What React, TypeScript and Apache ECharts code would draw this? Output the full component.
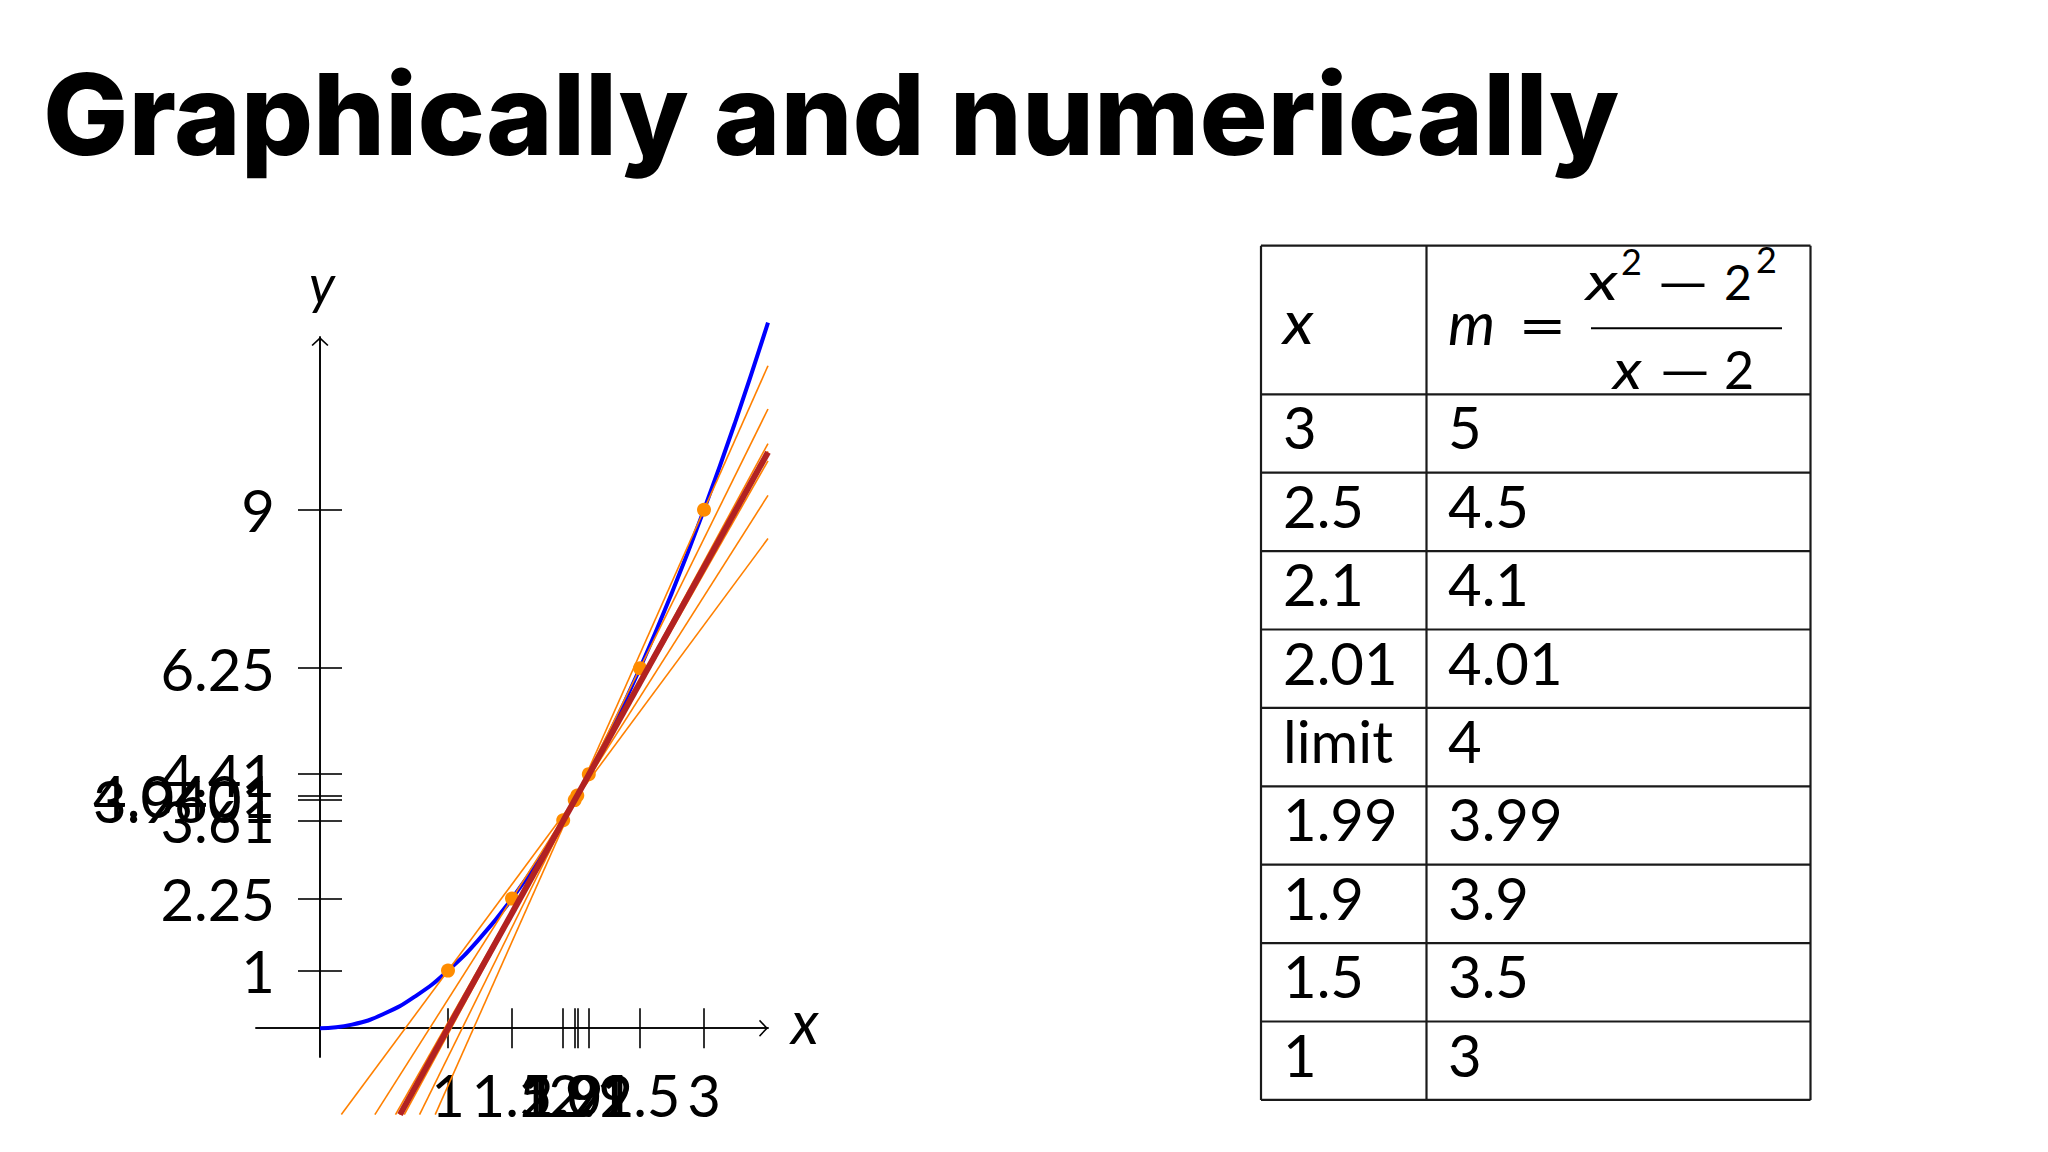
import React, { useEffect, useRef } from "react";
import * as echarts from "echarts";

// ---------- data ----------
const titleText = "Graphically and numerically";

const xTickValues = [1, 1.5, 1.9, 1.99, 2.01, 2.1, 2.5, 3];
const yTickValues = [1, 2.25, 3.61, 3.9601, 4.0401, 4.41, 6.25, 9];

// parabola y = x^2 read at quarter steps
const curveX = [0, 0.25, 0.5, 0.75, 1, 1.25, 1.5, 1.75, 2, 2.25, 2.5, 2.75, 3, 3.25, 3.5];
const curveY = [0, 0.0625, 0.25, 0.5625, 1, 1.5625, 2.25, 3.0625, 4, 5.0625, 6.25, 7.5625, 9, 10.5625, 12.25];

// secant points (a, a^2) and their slopes m
const secantX = [3, 2.5, 2.1, 2.01, 1.99, 1.9, 1.5, 1];
const secantY = [9, 6.25, 4.41, 4.0401, 3.9601, 3.61, 2.25, 1];
const secantSlope = [5, 4.5, 4.1, 4.01, 3.99, 3.9, 3.5, 3];

const tangentPoint = [2, 4];
const tangentSlope = 4;
const lineBottomY = -1.5;
const lineRightX = 3.5;

// table
const tableXCol = ["3", "2.5", "2.1", "2.01", "limit", "1.99", "1.9", "1.5", "1"];
const tableMCol = ["5", "4.5", "4.1", "4.01", "4", "3.99", "3.9", "3.5", "3"];

// ---------- helpers ----------
const LATO_K = 0.387;
const INTER_K = 0.363;

function txt(
  text: string,
  x: number,
  baseline: number,
  size: number,
  family: string,
  k: number,
  opts: { italic?: boolean; weight?: string | number; align?: string; scaleX?: number } = {}
) {
  const font = `${opts.italic ? "italic" : "normal"} ${opts.weight ?? "normal"} ${size}px ${family}`;
  const align = opts.align ?? "left";
  return {
    type: "text",
    x,
    y: baseline - k * size,
    scaleX: opts.scaleX ?? 1,
    silent: true,
    style: {
      text,
      fill: "#000",
      font,
      textAlign: align,
      align,
      textVerticalAlign: "middle",
      verticalAlign: "middle",
    },
  };
}

function segment(m: number) {
  const x0 = tangentPoint[0] + (lineBottomY - tangentPoint[1]) / m;
  const y1 = tangentPoint[1] + m * (lineRightX - tangentPoint[0]);
  return [
    [x0, lineBottomY],
    [lineRightX, y1],
  ];
}

const arrowPath = "path://M8.5,0 L17,8 L15.8,9 L8.5,2.2 L1.2,9 L0,8 Z";

export default function App() {
  const ref = useRef<HTMLDivElement>(null);

  useEffect(() => {
    if (!ref.current) return;
    const chart = echarts.init(ref.current, undefined, { renderer: "svg" });

    const axisLineStyle = { color: "#000", width: 1.6 };
    const labelFont = { fontSize: 58, fontFamily: "Lato", color: "#000" };

    // plot area: x in [-0.5, 3.5], y in [-0.5, 12]
    const gLeft = 256;
    const gTop = 337;
    const gWidth = 512;
    const gHeight = 720;
    const originX = 320; // pixel of x = 0
    const originY = 1028; // pixel of y = 0

    const xAxisBase = { type: "value", min: -0.5, max: 3.5, splitLine: { show: false } };
    const yAxisBase = { type: "value", min: -0.5, max: 12, splitLine: { show: false } };

    // table geometry
    const tLeft = 1261;
    const tDiv = 1426.5;
    const tRight = 1810.5;
    const tTop = 245.7;
    const tHead = 394.3;
    const rowH = 78.4;
    const tBottom = tHead + rowH * tableXCol.length;
    const lineStyle = { stroke: "#1a1a1a", lineWidth: 2.2 };

    const graphics: any[] = [];
    // title
    graphics.push(txt(titleText, 43, 155, 113, "Inter", INTER_K, { weight: 800, scaleX: 1.005 }));

    // axis names
    graphics.push(txt("y", 322, 304, 54, "Lato", LATO_K, { italic: true, align: "center" }));
    graphics.push(txt("x", 791, 1044, 60, "Lato", LATO_K, { italic: true }));

    // table lines
    [tLeft, tDiv, tRight].forEach((x) =>
      graphics.push({ type: "line", silent: true, shape: { x1: x, y1: tTop, x2: x, y2: tBottom }, style: lineStyle })
    );
    const hy = [tTop, tHead];
    for (let i = 1; i <= tableXCol.length; i++) hy.push(tHead + rowH * i);
    hy.forEach((y) =>
      graphics.push({ type: "line", silent: true, shape: { x1: tLeft, y1: y, x2: tRight, y2: y }, style: lineStyle })
    );

    // table header
    graphics.push(txt("x", 1283, 344, 60, "Lato", LATO_K, { italic: true, scaleX: 1.1 }));
    graphics.push(txt("m", 1448, 345, 60, "Lato", LATO_K, { italic: true }));
    graphics.push(txt("=", 1518, 347, 58, "Lato", LATO_K, { scaleX: 1.45 }));
    // numerator
    graphics.push(txt("x", 1586, 300, 52, "Lato", LATO_K, { italic: true, scaleX: 1.32 }));
    graphics.push(txt("2", 1621, 275, 36, "Lato", LATO_K));
    graphics.push(txt("\u2212", 1654, 302, 50, "Lato", LATO_K, { scaleX: 2.0 }));
    graphics.push(txt("2", 1724, 300, 48, "Lato", LATO_K));
    graphics.push(txt("2", 1756, 273, 36, "Lato", LATO_K));
    graphics.push({
      type: "line",
      silent: true,
      shape: { x1: 1591, y1: 328.3, x2: 1782, y2: 328.3 },
      style: { stroke: "#000", lineWidth: 2 },
    });
    // denominator
    graphics.push(txt("x", 1613, 389, 54, "Lato", LATO_K, { italic: true, scaleX: 1.15 }));
    graphics.push(txt("\u2212", 1656, 390, 50, "Lato", LATO_K, { scaleX: 2.0 }));
    graphics.push(txt("2", 1724, 389, 52, "Lato", LATO_K));

    // table body
    tableXCol.forEach((v, i) => {
      const base = tHead + rowH * i + 55;
      graphics.push(txt(v, 1283, base, 58, "Lato", LATO_K));
      graphics.push(txt(tableMCol[i], 1448, base, 58, "Lato", LATO_K));
    });

    const series: any[] = [];
    series.push({
      type: "line",
      name: "curve",
      data: curveX.map((x, i) => [x, curveY[i]]),
      smooth: true,
      showSymbol: false,
      clip: false,
      z: 2,
      lineStyle: { color: "#0000ff", width: 4 },
    });
    secantSlope.forEach((m, i) => {
      series.push({
        type: "line",
        name: "secant" + i,
        data: segment(m),
        showSymbol: false,
        clip: false,
        z: 3,
        lineStyle: { color: "#ff8000", width: 1.6 },
      });
    });
    series.push({
      type: "scatter",
      name: "points",
      data: secantX.map((x, i) => [x, secantY[i]]),
      symbolSize: 14,
      z: 4,
      itemStyle: { color: "#ff8c00", opacity: 1 },
    });
    series.push({
      type: "line",
      name: "tangent",
      data: segment(tangentSlope),
      showSymbol: false,
      clip: false,
      z: 5,
      lineStyle: { color: "#b22222", width: 6 },
    });

    const option: any = {
      animation: false,
      backgroundColor: "#ffffff",
      grid: { left: gLeft, top: gTop, width: gWidth, height: gHeight },
      xAxis: [
        {
          ...xAxisBase,
          position: "bottom",
          axisLine: {
            show: true,
            onZero: true,
            onZeroAxisIndex: 0,
            symbol: ["none", arrowPath],
            symbolSize: [17, 9],
            symbolOffset: [0, -4.5],
            lineStyle: axisLineStyle,
          },
          axisTick: { show: true, inside: false, length: 20, customValues: xTickValues, lineStyle: axisLineStyle },
          axisLabel: { show: false },
        },
        {
          ...xAxisBase,
          position: "top",
          axisLine: { show: true, onZero: true, onZeroAxisIndex: 0, lineStyle: axisLineStyle },
          axisTick: { show: true, inside: false, length: 20, customValues: xTickValues, lineStyle: axisLineStyle },
          axisLabel: { show: false },
        },
        {
          // label-only axis sitting on y = 0
          ...xAxisBase,
          position: "bottom",
          offset: -(gTop + gHeight - originY),
          axisLine: { show: false, onZero: false },
          axisTick: { show: false },
          axisLabel: {
            show: true,
            customValues: xTickValues,
            formatter: (v: number) => String(v),
            margin: 37,
            ...labelFont,
          },
        },
      ],
      yAxis: [
        {
          ...yAxisBase,
          position: "left",
          axisLine: {
            show: true,
            onZero: true,
            onZeroAxisIndex: 0,
            symbol: ["none", arrowPath],
            symbolSize: [17, 9],
            symbolOffset: [0, -4.5],
            lineStyle: axisLineStyle,
          },
          axisTick: { show: true, inside: false, length: 22, customValues: yTickValues, lineStyle: axisLineStyle },
          axisLabel: { show: false },
        },
        {
          ...yAxisBase,
          position: "right",
          axisLine: { show: true, onZero: true, onZeroAxisIndex: 0, lineStyle: axisLineStyle },
          axisTick: { show: true, inside: false, length: 22, customValues: yTickValues, lineStyle: axisLineStyle },
          axisLabel: { show: false },
        },
        {
          // label-only axis sitting on x = 0
          ...yAxisBase,
          position: "left",
          offset: -(originX - gLeft),
          axisLine: { show: false, onZero: false },
          axisTick: { show: false },
          axisLabel: {
            show: true,
            customValues: yTickValues,
            formatter: (v: number) => String(v),
            margin: 45,
            ...labelFont,
          },
        },
      ],
      series,
      graphic: { elements: graphics },
    };

    chart.setOption(option);
    return () => chart.dispose();
  }, []);

  return (
    <div
      ref={ref}
      style={{ position: "fixed", left: 0, top: 0, width: 2048, height: 1152, background: "#fff" }}
    />
  );
}
